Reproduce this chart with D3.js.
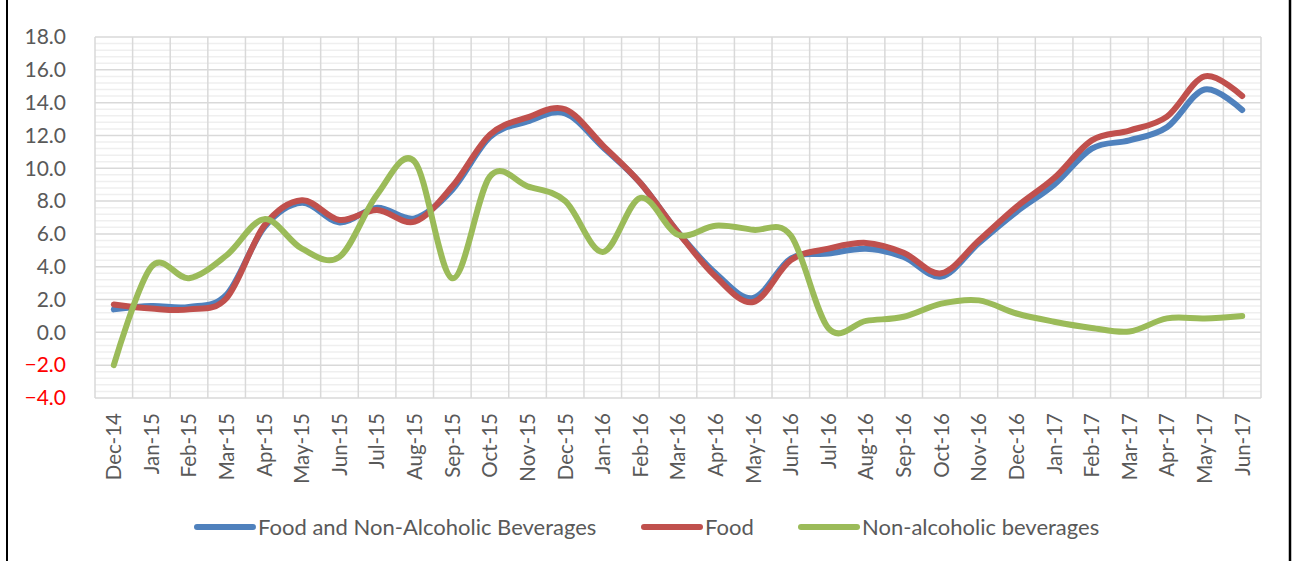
<!DOCTYPE html>
<html>
<head>
<meta charset="utf-8">
<script src="https://cdn.jsdelivr.net/npm/d3@7"></script>
<style>
  html, body { margin: 0; padding: 0; background: #ffffff; }
  svg { display: block; }
  text { font-family: Lato, "Open Sans", sans-serif; }
</style>
</head>
<body>
<svg id="chart" width="1294" height="561"></svg>
<script>
const categories = ["Dec-14","Jan-15","Feb-15","Mar-15","Apr-15","May-15","Jun-15","Jul-15","Aug-15","Sep-15","Oct-15","Nov-15","Dec-15","Jan-16","Feb-16","Mar-16","Apr-16","May-16","Jun-16","Jul-16","Aug-16","Sep-16","Oct-16","Nov-16","Dec-16","Jan-17","Feb-17","Mar-17","Apr-17","May-17","Jun-17"];

const foodAndNonAlcoholic = [1.4, 1.6, 1.55, 2.3, 6.4, 7.9, 6.7, 7.6, 6.95, 8.7, 11.9, 12.85, 13.35, 11.3, 9.1, 6.1, 3.6, 2.1, 4.5, 4.8, 5.1, 4.6, 3.4, 5.45, 7.35, 9.0, 11.2, 11.7, 12.5, 14.8, 13.55];
const food = [1.7, 1.45, 1.4, 2.1, 6.5, 8.05, 6.85, 7.45, 6.75, 8.9, 12.05, 13.1, 13.6, 11.4, 9.1, 6.1, 3.4, 1.85, 4.4, 5.1, 5.45, 4.85, 3.6, 5.6, 7.65, 9.4, 11.7, 12.3, 13.15, 15.6, 14.4];
const nonAlcoholic = [-2.0, 4.0, 3.3, 4.7, 6.9, 5.1, 4.6, 8.4, 10.4, 3.3, 9.5, 8.9, 8.0, 4.9, 8.2, 5.95, 6.5, 6.25, 5.9, 0.25, 0.7, 0.95, 1.75, 1.95, 1.15, 0.65, 0.27, 0.05, 0.85, 0.85, 1.0];

const seriesNames = ["Food and Non-Alcoholic Beverages", "Food", "Non-alcoholic beverages"];
const seriesColors = ["#4F81BD", "#C0504D", "#9BBB59"];
const yTicks = [-4, -2, 0, 2, 4, 6, 8, 10, 12, 14, 16, 18];

const series = [foodAndNonAlcoholic, food, nonAlcoholic];

const svg = d3.select("#chart");
const plot = { left: 95, right: 1261, top: 37, bottom: 398 };

const x = d3.scaleBand().domain(categories).range([plot.left, plot.right]).paddingInner(0).paddingOuter(0);
const y = d3.scaleLinear().domain([-4, 18]).range([plot.bottom, plot.top]);

// outer frame lines
svg.append("line").attr("x1", 7).attr("x2", 7).attr("y1", 0).attr("y2", 561)
  .attr("stroke", "#000").attr("stroke-width", 2);
svg.append("line").attr("x1", 1290).attr("x2", 1290).attr("y1", 0).attr("y2", 561)
  .attr("stroke", "#000").attr("stroke-width", 2.5);

// minor horizontal gridlines
const minorTicks = d3.range(-4, 18.001, 0.4).filter(v => Math.abs(v / 2 - Math.round(v / 2)) > 1e-6);
svg.append("g").selectAll("line").data(minorTicks).join("line")
  .attr("x1", plot.left).attr("x2", plot.right)
  .attr("y1", d => y(d)).attr("y2", d => y(d))
  .attr("stroke", "#efefef").attr("stroke-width", 1.5);

// vertical gridlines at category boundaries
const bounds = categories.map(c => x(c)).concat([plot.right]);
svg.append("g").selectAll("line").data(bounds).join("line")
  .attr("x1", d => d).attr("x2", d => d)
  .attr("y1", plot.top).attr("y2", plot.bottom)
  .attr("stroke", "#d9d9d9").attr("stroke-width", 1.5);

// major horizontal gridlines
svg.append("g").selectAll("line").data(yTicks).join("line")
  .attr("x1", plot.left).attr("x2", plot.right)
  .attr("y1", d => y(d)).attr("y2", d => y(d))
  .attr("stroke", "#d9d9d9").attr("stroke-width", 1.5);

// y axis
const yAxis = svg.append("g").attr("transform", `translate(${plot.left},0)`)
  .call(d3.axisLeft(y).tickValues(yTicks).tickSize(0).tickPadding(29).tickFormat(d3.format(".1f")));
yAxis.select(".domain").remove();
yAxis.selectAll("text")
  .attr("font-size", 21)
  .attr("font-family", "Lato, sans-serif")
  .attr("fill", d => d < 0 ? "#FF0000" : "#595959");

// x axis
const xAxis = svg.append("g").attr("transform", `translate(0,${plot.bottom})`)
  .call(d3.axisBottom(x).tickSize(0));
xAxis.select(".domain").remove();
xAxis.selectAll("text")
  .attr("font-size", 20.5)
  .attr("font-family", "Lato, sans-serif")
  .attr("fill", "#595959")
  .attr("text-anchor", "end")
  .attr("transform", "rotate(-90)")
  .attr("x", -15)
  .attr("y", 0)
  .attr("dy", "0.36em");

// lines
const line = d3.line()
  .x((d, i) => x(categories[i]) + x.bandwidth() / 2)
  .y(d => y(d))
  .curve(d3.curveCatmullRom.alpha(0));

svg.append("g").selectAll("path").data(series).join("path")
  .attr("d", d => line(d))
  .attr("fill", "none")
  .attr("stroke", (d, i) => seriesColors[i])
  .attr("stroke-width", 6)
  .attr("stroke-linecap", "round")
  .attr("stroke-linejoin", "round");

// legend
const legendItems = [
  { name: seriesNames[0], color: seriesColors[0], x0: 197 },
  { name: seriesNames[1], color: seriesColors[1], x0: 644 },
  { name: seriesNames[2], color: seriesColors[2], x0: 801 }
];
const legendY = 527;
const lg = svg.append("g").selectAll("g").data(legendItems).join("g")
  .attr("transform", d => `translate(${d.x0},${legendY})`);
lg.append("line").attr("x1", 0).attr("x2", 56).attr("y1", 0).attr("y2", 0)
  .attr("stroke", d => d.color).attr("stroke-width", 6).attr("stroke-linecap", "round");
lg.append("text").attr("x", 61).attr("y", 0).attr("dy", "0.35em")
  .attr("font-size", 22).attr("font-family", "Lato, sans-serif").attr("fill", "#595959")
  .text(d => d.name);
</script>
</body>
</html>
